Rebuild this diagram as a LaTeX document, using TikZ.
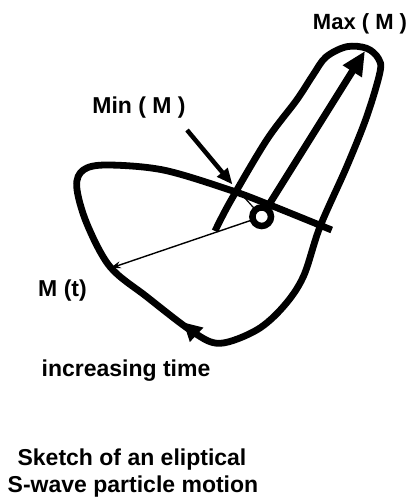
\documentclass[tikz,border=0pt]{standalone}
\usepackage{fontspec}
\setmainfont{Liberation Sans}
\usetikzlibrary{arrows.meta}
\begin{document}
\begin{tikzpicture}[x=1pt,y=-1pt,
  lbl/.style={font=\fontsize{23}{24}\selectfont\bfseries, inner sep=0pt, anchor=base},
  thick curve/.style={line width=6.8pt, line join=round},
  thinline/.style={line width=1.4pt}]
\useasboundingbox (0,0) rectangle (415,501);
% main loop
\draw[thick curve] plot[smooth, tension=0.55] coordinates {
 (215,231) (230,202) (266.7,140) (296.7,100) (313,75) (326,57)
 (346.7,46.7) (366.7,48.3) (378.3,58.3) (380,72) (366.7,116.7)
 (346.7,166.7) (320,226.7) (303.3,276.7) (283.3,306.7) (256.7,330)
 (220,343.3) (193,332) (146.7,296.7) (110,266.7) (86.7,223.3)
 (76.7,186.7) (83.3,170) (106.7,165) (163.3,170) (230,190)
 (270,205) (331.7,230)};
% arrowhead on loop
\path[draw, line width=3pt, -{Triangle[length=18pt,width=19pt]}] (200,338) -- (183.5,322.5);
% centre
\coordinate (c) at (261.7,216.7);
\coordinate (mt) at (110,268.3);
\coordinate (cross) at (236.7,189);
\draw[thinline, -{Stealth[length=11pt,width=7pt]}] (c) -- (mt);
\draw[line width=1.2pt] (c) -- (cross);
\draw[line width=6.5pt, fill=white] (c) circle (9.3pt);
% Max arrow
\coordinate (maxs) at (270,203);
\coordinate (maxe) at (365,51);
\draw[line width=7pt, -{Triangle[length=24pt,width=21pt]}] (maxs) -- (maxe);
% Min arrow
\coordinate (mins) at (187,130);
\coordinate (mine) at (232.5,184.5);
\draw[line width=4.5pt, -{Triangle[length=16pt,width=13pt]}] (mins) -- (mine);
% labels
\node[lbl, font=\fontsize{22}{24}\selectfont\bfseries] (lmax) at (360,29) {Max ( M )};
\node[lbl] (lmin) at (139,113) {Min ( M )};
\node[lbl] (lmt) at (62.5,296) {M (t)};
\node[lbl] (ltime) at (126,376) {increasing time};
\node[lbl] (cap1) at (132,465) {Sketch of an eliptical};
\node[lbl] (cap2) at (133,492) {S-wave particle motion};
\end{tikzpicture}
\end{document}
